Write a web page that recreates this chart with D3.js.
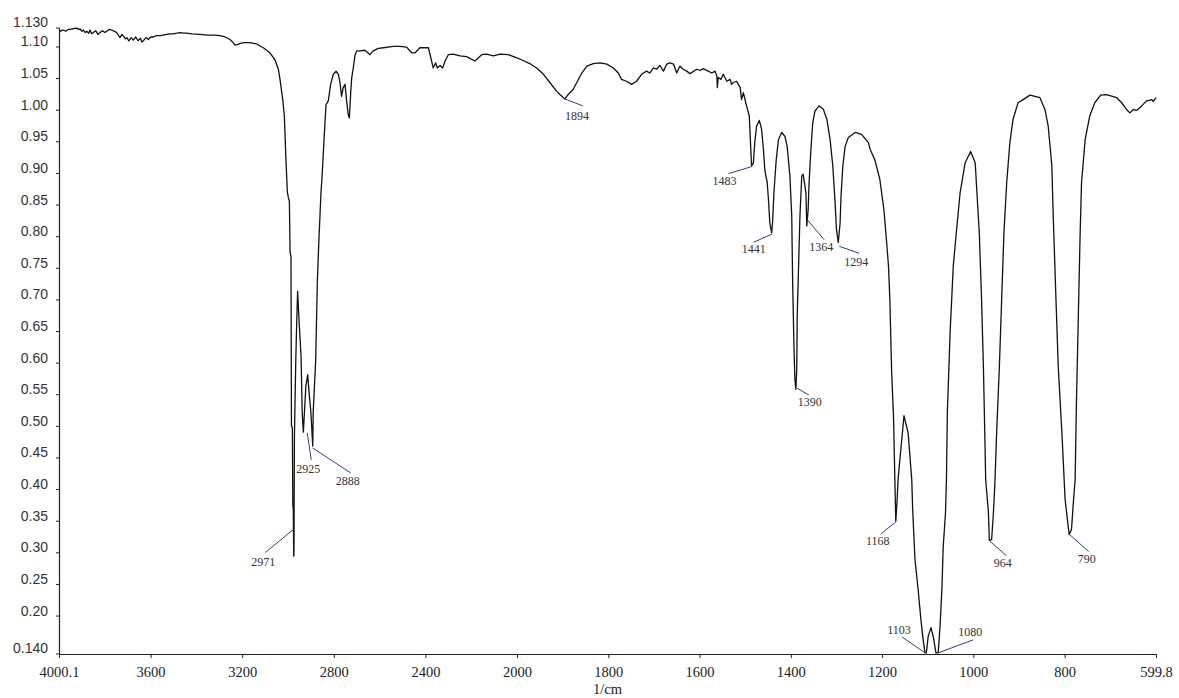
<!DOCTYPE html>
<html>
<head>
<meta charset="utf-8">
<script src="https://cdn.jsdelivr.net/npm/d3@7"></script>
<style>
  html, body { margin: 0; padding: 0; background: #ffffff; }
  svg { display: block; }
</style>
</head>
<body>
<svg id="chart" width="1179" height="698"></svg>
<script>
// ---------------- DATA ----------------
const wavenumbers = [
  3999,3990,3981,3970,3960,3952,3940,3923,3915,3908,3900,3894,3885,3879,3870,3865,3857,3850,3840,3830,
  3821,3810,3800,3792,3780,3770,3758,3748,3740,3734,3725,3718,3710,3704,3695,3685,3676,3665,3655,3645,
  3638,3632,3620,3610,3600,3588,3575,3559,3545,3530,3515,3501,3485,3472,3455,3443,3420,3384,3350,3326,
  3297,3275,3253,3240,3231,3220,3210,3190,3166,3137,3108,3079,3057,3042,3035,3023,3016,3009,3003,2999,
  2994,2991,2987,2985,2981,2979,2977,2975,2974,2972,2966,2962,2958,2952,2943,2938,2933,2922,2914,2908,
  2900,2892,2890,2879,2872,2865,2856,2852,2839,2834,2824,2814,2802,2790,2780,2773,2766,2759,2751,2744,
  2737,2732,2726,2722,2715,2707,2700,2686,2664,2642,2628,2606,2584,2562,2540,2511,2482,2460,2445,2424,
  2387,2373,2366,2355,2348,2336,2325,2314,2300,2278,2249,2220,2184,2154,2133,2103,2074,2038,2009,1990,
  1972,1957,1942,1928,1913,1906,1895,1888,1877,1869,1858,1847,1833,1818,1803,1789,1778,1771,1760,1749,
  1738,1727,1716,1709,1701,1694,1687,1679,1672,1665,1657,1650,1643,1636,1628,1621,1606,1599,1592,1581,
  1573,1566,1562,1561,1559,1553,1548,1540,1533,1530,1526,1519,1515,1511,1508,1504,1497,1491,1488,1486,
  1482,1479,1475,1469,1464,1460,1457,1454,1452,1449,1446,1442,1440,1437,1432,1427,1420,1413,1408,1402,
  1398,1396,1393,1391,1389,1387,1386,1384,1380,1376,1373,1370,1367,1365,1362,1360,1356,1352,1347,1338,
  1329,1321,1314,1308,1303,1300,1296,1292,1290,1286,1281,1274,1259,1245,1230,1226,1216,1205,1196,1190,
  1186,1183,1179,1175,1173,1172,1170,1167,1165,1161,1152,1143,1135,1133,1128,1121,1115,1110,1106,1103,
  1099,1093,1088,1082,1079,1077,1073,1069,1066,1061,1059,1057,1051,1044,1036,1029,1018,1006,996,993,
  987,982,978,975,973,967,965,960,956,953,949,943,938,933,927,920,913,902,891,876,
  854,843,836,828,825,819,814,806,799,794,790,785,781,777,774,770,766,763,755,745,
  734,721,708,686,675,664,657,650,642,631,626,620,609,606,599.8
];
const transmittance = [
  1.123,1.125,1.126,1.124,1.127,1.127,1.128,1.129,1.127,1.128,1.124,1.126,1.122,1.124,1.121,1.126,1.120,1.122,1.125,1.119,
  1.122,1.125,1.122,1.124,1.127,1.126,1.124,1.122,1.117,1.114,1.119,1.116,1.112,1.114,1.109,1.114,1.110,1.115,1.109,1.113,
  1.107,1.109,1.114,1.111,1.115,1.115,1.117,1.117,1.118,1.119,1.120,1.120,1.121,1.122,1.121,1.121,1.120,1.119,1.118,1.118,
  1.117,1.115,1.111,1.106,1.102,1.103,1.105,1.106,1.106,1.104,1.098,1.090,1.079,1.064,1.048,1.016,0.990,0.921,0.870,0.862,
  0.855,0.774,0.768,0.500,0.497,0.373,0.370,0.294,0.300,0.484,0.605,0.664,0.713,0.668,0.610,0.521,0.490,0.563,0.581,0.553,
  0.521,0.468,0.521,0.605,0.727,0.795,0.869,0.890,0.977,1.008,1.014,1.040,1.056,1.061,1.056,1.043,1.021,1.035,1.040,1.014,
  0.992,0.987,1.029,1.050,1.066,1.087,1.093,1.093,1.094,1.087,1.093,1.097,1.098,1.099,1.100,1.100,1.099,1.090,1.090,1.098,
  1.098,1.077,1.066,1.074,1.066,1.070,1.066,1.077,1.087,1.088,1.085,1.084,1.077,1.087,1.088,1.085,1.088,1.087,1.083,1.079,
  1.073,1.066,1.056,1.043,1.029,1.024,1.017,1.024,1.032,1.043,1.058,1.069,1.073,1.074,1.072,1.066,1.058,1.048,1.045,1.040,
  1.045,1.056,1.061,1.058,1.066,1.064,1.070,1.061,1.072,1.074,1.072,1.058,1.069,1.064,1.061,1.057,1.064,1.062,1.065,1.061,
  1.058,1.061,1.053,1.035,1.051,1.048,1.056,1.045,1.048,1.040,1.043,1.045,1.040,1.035,1.016,1.027,1.006,0.990,0.942,0.911,
  0.916,0.948,0.974,0.983,0.969,0.937,0.905,0.892,0.887,0.858,0.821,0.805,0.822,0.869,0.921,0.953,0.964,0.958,0.942,0.895,
  0.832,0.727,0.621,0.573,0.558,0.589,0.673,0.726,0.832,0.895,0.898,0.884,0.869,0.816,0.842,0.884,0.937,0.979,0.998,1.006,
  1.001,0.985,0.953,0.911,0.853,0.811,0.790,0.821,0.863,0.911,0.942,0.956,0.964,0.961,0.948,0.937,0.921,0.890,0.842,0.790,
  0.753,0.700,0.584,0.515,0.447,0.415,0.349,0.384,0.415,0.447,0.516,0.489,0.415,0.368,0.289,0.241,0.194,0.162,0.141,0.141,
  0.167,0.181,0.167,0.141,0.141,0.141,0.183,0.241,0.310,0.363,0.415,0.521,0.647,0.753,0.816,0.869,0.916,0.934,0.916,0.879,
  0.805,0.700,0.594,0.489,0.415,0.363,0.319,0.320,0.363,0.407,0.489,0.594,0.700,0.805,0.884,0.948,0.985,1.011,1.016,1.023,
  1.019,1.000,0.974,0.911,0.832,0.700,0.594,0.489,0.384,0.352,0.328,0.336,0.378,0.415,0.542,0.673,0.805,0.884,0.953,0.990,
  1.011,1.023,1.024,1.019,1.011,1.000,0.995,1.000,0.999,1.006,1.010,1.014,1.016,1.013,1.019
];

// peak annotations: label text and the point on the curve where its leader starts
const peakLabels = ["2971","2925","2888","1894","1483","1441","1390","1364","1294","1168","1103","1080","964","790"];
const peakWn     = [2977, 2916, 2892, 1895, 1486, 1442, 1387, 1364, 1294, 1170, 1106, 1077, 964.3, 789];
const peakVal    = [0.336,0.489,0.465,1.017,0.910,0.803,0.560,0.826,0.784,0.348,0.141,0.141,0.318,0.328];

// axis ticks
const xTickValues = [4000.1, 3600, 3200, 2800, 2400, 2000, 1800, 1600, 1400, 1200, 1000, 800, 599.8];
const xTickLabels = ["4000.1","3600","3200","2800","2400","2000","1800","1600","1400","1200","1000","800","599.8"];
const yTickValues = [1.13, 1.10, 1.05, 1.00, 0.95, 0.90, 0.85, 0.80, 0.75, 0.70, 0.65, 0.60, 0.55, 0.50, 0.45, 0.40, 0.35, 0.30, 0.25, 0.20, 0.14];
const yTickLabels = ["1.130","1.10","1.05","1.00","0.95","0.90","0.85","0.80","0.75","0.70","0.65","0.60","0.55","0.50","0.45","0.40","0.35","0.30","0.25","0.20","0.140"];
const xAxisTitle = "1/cm";

// ---------------- LAYOUT ----------------
const svg = d3.select("#chart");
const plotLeft = 59, plotRight = 1156, plotTop = 27.5, plotBottom = 653.5;
const xBreak = 517; // instrument scale change at 2000 1/cm

const x = d3.scaleLinear().domain([4000.1, 2000, 599.8]).range([plotLeft, xBreak, plotRight]);
const y = d3.scaleLinear().domain([0.14, 1.13]).range([plotBottom, plotTop]);

// label offsets (px) : [leaderEndDx, leaderEndDy, textDx, textDy]
const labelOffsets = [
  [-28, 23, -30, 32], [4, 27, 1, 36], [38, 25, 35, 33], [18, 7, 12, 17],
  [-23, 7, -27, 14], [-18, 8, -18, 15], [12, 7, 13, 14], [17, 20, 14, 27],
  [20, 7, 17, 16], [-15, 12, -18, 19], [-23, -16, -26, -23], [35, -13, 32, -21],
  [17, 15, 13, 22], [19, 17, 17, 24]
];

// ---------------- AXES ----------------
const xAxis = d3.axisBottom(x)
  .tickValues(xTickValues)
  .tickFormat((d, i) => xTickLabels[i])
  .tickSize(4)
  .tickSizeOuter(0);

const gx = svg.append("g")
  .attr("transform", `translate(0,${plotBottom + 0.5})`)
  .call(xAxis);
gx.select(".domain").attr("stroke", "#222").attr("stroke-width", 1.2);
gx.selectAll(".tick line").attr("stroke", "#222");
gx.selectAll(".tick text")
  .attr("y", 18)
  .attr("dy", "0.35em")
  .attr("fill", "#222")
  .style("font-family", "'Liberation Serif', 'Times New Roman', serif")
  .style("font-size", "14.5px");

const yAxis = d3.axisLeft(y)
  .tickValues(yTickValues)
  .tickFormat((d, i) => yTickLabels[i])
  .tickSize(3)
  .tickPadding(8)
  .tickSizeOuter(0);

const gy = svg.append("g")
  .attr("transform", `translate(${plotLeft},0)`)
  .call(yAxis);
gy.select(".domain").attr("stroke", "#222").attr("stroke-width", 1.2);
gy.selectAll(".tick line").attr("stroke", "#222");
gy.selectAll(".tick text")
  .attr("y", -5)
  .attr("fill", "#333")
  .style("font-family", "'Liberation Sans', Arial, sans-serif")
  .style("font-size", "14px");

svg.append("text")
  .attr("x", (plotLeft + plotRight) / 2)
  .attr("y", 689)
  .attr("dy", "0.35em")
  .attr("text-anchor", "middle")
  .attr("fill", "#222")
  .style("font-family", "'Liberation Serif', 'Times New Roman', serif")
  .style("font-size", "14.5px")
  .text(xAxisTitle);

// ---------------- SPECTRUM ----------------
const points = wavenumbers.map((w, i) => [w, transmittance[i]]);
const line = d3.line().x(d => x(d[0])).y(d => y(d[1]));

svg.append("path")
  .datum(points)
  .attr("fill", "none")
  .attr("stroke", "#111")
  .attr("stroke-width", 1.3)
  .attr("stroke-linejoin", "round")
  .attr("d", line);

// ---------------- PEAK LABELS ----------------
const gl = svg.append("g");
peakLabels.forEach((lab, i) => {
  const px = x(peakWn[i]), py = y(peakVal[i]);
  const o = labelOffsets[i];
  gl.append("line")
    .attr("x1", px).attr("y1", py)
    .attr("x2", px + o[0]).attr("y2", py + o[1])
    .attr("stroke", "#34407a")
    .attr("stroke-width", 1);
  gl.append("text")
    .attr("x", px + o[2]).attr("y", py + o[3])
    .attr("dy", "0.35em")
    .attr("text-anchor", "middle")
    .attr("fill", "#333")
    .style("font-family", "'Liberation Serif', 'Times New Roman', serif")
    .style("font-size", "12px")
    .text(lab);
});
</script>
</body>
</html>
